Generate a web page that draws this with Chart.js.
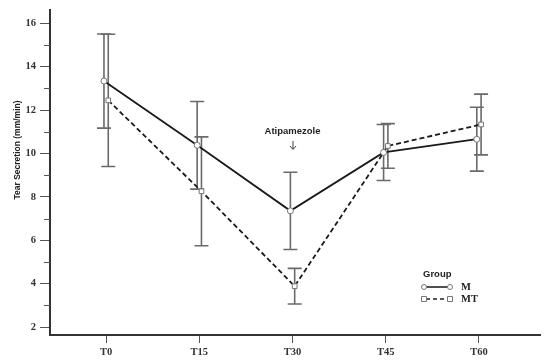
<!DOCTYPE html>
<html>
<head>
<meta charset="utf-8">
<script src="https://cdn.jsdelivr.net/npm/chart.js@4"></script>
<style>
html,body{margin:0;padding:0;background:#fff;}
#wrap{width:545px;height:362px;}
</style>
</head>
<body>
<div id="wrap"><canvas id="c" width="545" height="362"></canvas></div>
<script>
const categories = ['T0','T15','T30','T45','T60'];
const mMean  = [13.34, 10.38, 7.36, 10.05, 10.66];
const mSD    = [2.17, 2.02, 1.78, 1.29, 1.47];
const mtMean = [12.45, 8.26, 3.89, 10.35, 11.34];
const mtSD   = [3.05, 2.51, 0.82, 1.03, 1.40];
const yTickValues = [2,4,6,8,10,12,14,16];
const yMinorTicks = [3,5,7,9,11,13,15];
const seriesNames = ['M','MT'];
const legendTitle = 'Group';
const yTitle = 'Tear Secretion (mm/min)';
const annotationText = 'Atipamezole';
const annotationAt = 2; // T30

const OFF = 0.023;
const serif = "'Liberation Serif', 'Times New Roman', serif";
const sans = "'Liberation Sans', Arial, sans-serif";

const errorBars = {
  id: 'errorBars',
  beforeDatasetsDraw(chart) {
    const ctx = chart.ctx;
    const xs = chart.scales.x, ys = chart.scales.y;
    const sets = [[mMean, mSD, -OFF], [mtMean, mtSD, OFF]];
    ctx.save();
    ctx.strokeStyle = '#6a6a6a';
    ctx.lineWidth = 1.6;
    sets.forEach(([mean, sd, off]) => {
      mean.forEach((m, i) => {
        const x = xs.getPixelForValue(i + off);
        const yt = ys.getPixelForValue(m + sd[i]);
        const yb = ys.getPixelForValue(m - sd[i]);
        ctx.beginPath();
        ctx.moveTo(x, yt); ctx.lineTo(x, yb);
        ctx.moveTo(x - 7, yt); ctx.lineTo(x + 7, yt);
        ctx.moveTo(x - 7, yb); ctx.lineTo(x + 7, yb);
        ctx.stroke();
      });
    });
    ctx.restore();
  },
  afterDraw(chart) {
    const ctx = chart.ctx;
    const xs = chart.scales.x, ys = chart.scales.y;
    ctx.save();
    // minor y ticks
    ctx.strokeStyle = '#555';
    ctx.lineWidth = 1;
    yMinorTicks.forEach(v => {
      const y = Math.round(ys.getPixelForValue(v)) + 0.5;
      ctx.beginPath(); ctx.moveTo(44, y); ctx.lineTo(50, y); ctx.stroke();
    });
    // y title
    ctx.fillStyle = '#222';
    ctx.font = "bold 8.5px " + sans;
    ctx.textAlign = 'center';
    ctx.textBaseline = 'middle';
    ctx.translate(18, 150);
    ctx.rotate(-Math.PI / 2);
    ctx.fillText(yTitle, 0, 0);
    ctx.restore();

    ctx.save();
    // annotation
    const ax = xs.getPixelForValue(annotationAt);
    ctx.fillStyle = '#222';
    ctx.font = "bold 9.5px " + sans;
    ctx.textAlign = 'center';
    ctx.textBaseline = 'middle';
    ctx.fillText(annotationText, ax, 131);
    ctx.strokeStyle = '#444';
    ctx.lineWidth = 1;
    ctx.beginPath();
    ctx.moveTo(ax + 0.5, 141); ctx.lineTo(ax + 0.5, 149);
    ctx.moveTo(ax - 2.5, 146); ctx.lineTo(ax + 0.5, 149.5); ctx.lineTo(ax + 3.5, 146);
    ctx.stroke();

    // legend
    ctx.textAlign = 'left';
    ctx.font = "bold 9.5px " + sans;
    ctx.fillStyle = '#222';
    ctx.fillText(legendTitle, 423, 274);
    const rows = [[287, [], 'circle'], [299, [4, 3], 'rect']];
    rows.forEach(([y, dash, shape], k) => {
      ctx.strokeStyle = '#222';
      ctx.lineWidth = 1.6;
      ctx.setLineDash(dash);
      ctx.beginPath(); ctx.moveTo(426, y); ctx.lineTo(448, y); ctx.stroke();
      ctx.setLineDash([]);
      ctx.strokeStyle = '#777';
      ctx.lineWidth = 1;
      ctx.fillStyle = '#fff';
      [424, 450].forEach(px => {
        ctx.beginPath();
        if (shape === 'circle') ctx.arc(px, y, 2.5, 0, Math.PI * 2);
        else ctx.rect(px - 2.5, y - 2.5, 5, 5);
        ctx.fill(); ctx.stroke();
      });
      ctx.fillStyle = '#222';
      ctx.font = "bold 10.5px " + serif;
      ctx.fillText(seriesNames[k], 461, y + 0.5);
    });
    ctx.restore();
  }
};

const tickFont = { family: serif, size: 10.5, weight: 'bold' };

new Chart(document.getElementById('c'), {
  type: 'line',
  data: {
    datasets: [
      {
        label: seriesNames[0],
        data: mMean.map((v, i) => ({ x: i - OFF, y: v })),
        borderColor: '#1a1a1a',
        borderWidth: 1.8,
        pointStyle: 'circle',
        pointRadius: 3,
        pointBackgroundColor: '#fff',
        pointBorderColor: '#777',
        pointBorderWidth: 1,
        tension: 0
      },
      {
        label: seriesNames[1],
        data: mtMean.map((v, i) => ({ x: i + OFF, y: v })),
        borderColor: '#1a1a1a',
        borderWidth: 1.8,
        borderDash: [5, 3],
        pointStyle: 'rect',
        pointRadius: 3.3,
        pointBackgroundColor: '#fff',
        pointBorderColor: '#777',
        pointBorderWidth: 1,
        tension: 0
      }
    ]
  },
  options: {
    responsive: false,
    animation: false,
    devicePixelRatio: 1,
    layout: { padding: { top: 6, left: 0, right: 0, bottom: 0 } },
    plugins: { legend: { display: false }, tooltip: { enabled: false } },
    scales: {
      x: {
        type: 'linear',
        min: -0.602,
        max: 4.655,
        afterBuildTicks: s => { s.ticks = categories.map((c, i) => ({ value: i })); },
        ticks: {
          callback: v => categories[v],
          font: tickFont,
          color: '#333',
          padding: 3,
          maxRotation: 0,
          autoSkip: false
        },
        grid: { drawOnChartArea: false, tickLength: 8, tickColor: '#555', tickWidth: 1 },
        border: { color: '#333', width: 2 },
        afterFit: s => { s.height = 27; }
      },
      y: {
        min: 1.64,
        max: 16.6,
        afterBuildTicks: s => { s.ticks = yTickValues.map(v => ({ value: v })); },
        ticks: { font: tickFont, color: '#333', padding: 4, autoSkip: false },
        grid: { drawOnChartArea: false, tickLength: 10, tickColor: '#555', tickWidth: 1 },
        border: { color: '#333', width: 2 },
        afterFit: s => { s.width = 50; }
      }
    }
  },
  plugins: [errorBars]
});
</script>
</body>
</html>
